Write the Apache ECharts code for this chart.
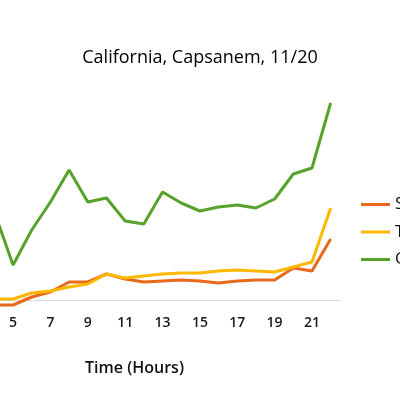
<!DOCTYPE html>
<html><head><meta charset="utf-8">
<script src="https://cdn.jsdelivr.net/npm/echarts@6/dist/echarts.min.js"></script>
<style>html,body{margin:0;padding:0;background:#fff}#c{width:400px;height:400px}</style>
</head><body><div id="c"></div>
<script>
const hours = ['1','2','3','4','5','6','7','8','9','10','11','12','13','14','15','16','17','18','19','20','21','22'];
const seriesNames = ['Stores', 'Total', 'Other'];
const storesVals = [null, null, null, -5, -5, 3, 8, 18, 18, 26, 21, 18, 19, 20, 19, 17, 19, 20, 20, 32, 29, 61];
const totalVals  = [null, null, null, 1, 1, 7, 9, 13, 16, 26, 22, 24, 26, 27, 27, 29, 30, 29, 28, 33, 38, 92];
const otherVals  = [null, null, null, 88, 35, 70, 98, 130, 98, 102, 79, 76, 108, 97, 89, 93, 95, 92, 101, 126, 132, 197];
const colors = ['#E8681C', '#FFB800', '#56A22A'];

const chart = echarts.init(document.getElementById('c'), null, {renderer: 'canvas'});
const font = '"Open Sans", "DejaVu Sans", sans-serif';
chart.setOption({
  animation: false,
  title: {
    text: 'California, Capsanem, 11/20',
    left: 'center', top: 44,
    textStyle: {fontFamily: font, fontSize: 18, fontWeight: 'normal', color: '#000'}
  },
  legend: {
    orient: 'vertical', left: 356, top: 191,
    icon: 'rect', itemWidth: 29, itemHeight: 3, itemGap: 10.5,
    textStyle: {fontFamily: font, fontSize: 17, color: '#111'},
    data: seriesNames
  },
  grid: {left: -71, top: 80, width: 411, height: 230, containLabel: false, outerBoundsMode: 'none'},
  xAxis: {
    type: 'category', data: hours, boundaryGap: true,
    name: 'Time (Hours)', nameLocation: 'middle', nameGap: 50,
    nameTextStyle: {fontFamily: font, fontSize: 16, fontWeight: 600, color: '#111'},
    axisLine: {onZero: true, lineStyle: {color: '#d9d9d9', width: 1}},
    axisTick: {show: false},
    axisLabel: {
      interval: function (i, v) { return Number(v) % 2 === 1; },
      margin: 6, fontFamily: font, fontSize: 14, fontWeight: 600, color: '#1a1a1a'
    }
  },
  yAxis: {
    type: 'value', min: -10, max: 220, show: false,
    splitLine: {show: false}
  },
  series: [
    {name: seriesNames[0], type: 'line', data: storesVals, symbol: 'none', color: colors[0], lineStyle: {width: 3, color: colors[0]}, z: 3},
    {name: seriesNames[1], type: 'line', data: totalVals, symbol: 'none', color: colors[1], lineStyle: {width: 3, color: colors[1]}, z: 4},
    {name: seriesNames[2], type: 'line', data: otherVals, symbol: 'none', color: colors[2], lineStyle: {width: 3, color: colors[2]}, z: 5}
  ]
});
</script></body></html>
